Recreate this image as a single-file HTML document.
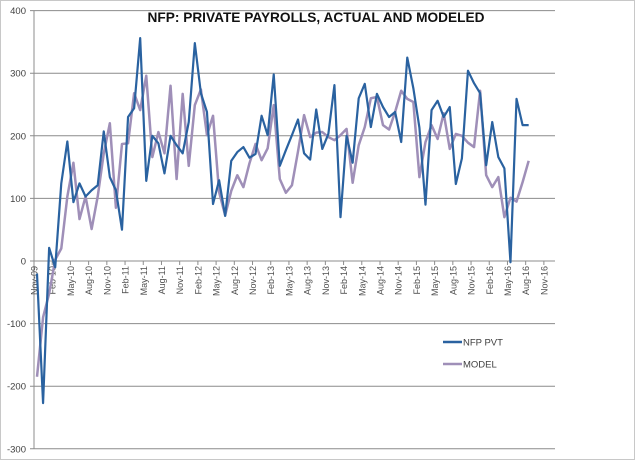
<!DOCTYPE html>
<html><head><meta charset="utf-8"><style>
body{margin:0;background:#fff;}
svg{display:block;font-family:"Liberation Sans",sans-serif;}
</style></head><body>
<svg id="chart" width="640" height="460">
<rect x="0.5" y="0.5" width="634" height="459" fill="#fff" stroke="#c8c8c8"/>
<g id="grid"></g><g id="yticks"></g><g id="xticks"></g><g id="series"></g>
<text x="316" y="22" text-anchor="middle" font-size="14" font-weight="bold" fill="#111" textLength="337" lengthAdjust="spacingAndGlyphs">NFP: PRIVATE PAYROLLS, ACTUAL AND MODELED</text>
<g>
<line x1="443" y1="342" x2="462" y2="342" stroke="#2a62a0" stroke-width="2.5"/>
<text x="463" y="345.5" font-size="9.5" fill="#404040">NFP PVT</text>
<line x1="443" y1="364" x2="462" y2="364" stroke="#9f8fb8" stroke-width="2.5"/>
<text x="463" y="367.5" font-size="9.5" fill="#404040">MODEL</text>
</g>
</svg>
<script>
const nfpPvt=[-20,-227,21,-10,124,191,94,124,103,113,121,207,134,113,50,230,244,356,128,200,188,140,200,185,172,222,348,268,238,91,129,72,160,174,182,165,171,232,201,298,152,177,201,226,172,162,242,179,203,281,70,200,157,260,283,214,267,246,230,238,190,325,276,213,90,241,256,230,246,123,164,304,284,268,153,222,166,148,-2,259,217,217];
const model=[-185,-90,-52,2,20,103,157,67,103,51,103,172,220,85,187,188,268,241,296,166,206,172,280,131,267,152,249,274,201,232,110,73,112,137,118,156,187,161,180,249,131,109,121,175,233,198,205,206,198,193,201,211,125,185,214,260,262,217,210,238,272,259,254,134,190,217,195,236,179,203,200,189,182,272,137,118,134,70,101,95,126,160];
const yTicks=[400,300,200,100,0,-100,-200,-300];
const xLabels=["Nov-09","Feb-10","May-10","Aug-10","Nov-10","Feb-11","May-11","Aug-11","Nov-11","Feb-12","May-12","Aug-12","Nov-12","Feb-13","May-13","Aug-13","Nov-13","Feb-14","May-14","Aug-14","Nov-14","Feb-15","May-15","Aug-15","Nov-15","Feb-16","May-16","Aug-16","Nov-16"];
const NS="http://www.w3.org/2000/svg";
function yS(v){return 261-v*0.626;}
function xS(i){return 37+6.07*i;}
function mk(tag,attrs,parent){const e=document.createElementNS(NS,tag);for(const k in attrs)e.setAttribute(k,attrs[k]);parent.appendChild(e);return e;}
const grid=document.getElementById('grid'),yt=document.getElementById('yticks'),xt=document.getElementById('xticks'),ser=document.getElementById('series');
yTicks.forEach(v=>{
  const l=mk('line',{x1:30,x2:555,y1:yS(v),y2:yS(v),stroke:'#8c8c8c','stroke-width':1},grid);
  
  
  const t=mk('text',{x:26,y:yS(v)+3.5,'text-anchor':'end','font-size':9.5,fill:'#404040'},yt);
  t.textContent=v;
  
  
});
const ax=mk('line',{x1:34,x2:34,y1:yS(400),y2:yS(-300),stroke:'#8c8c8c','stroke-width':1},grid);


xLabels.forEach((s,k)=>{
  const x=34+6.07*3*k;
  const tk=mk('line',{x1:x,x2:x,y1:261,y2:265,stroke:'#8c8c8c'},xt);
  
  
  const t=mk('text',{x:0,y:0,'text-anchor':'end','font-size':9,fill:'#505050',transform:`translate(${x+3.5},266) rotate(-90)`},xt);
  t.textContent=s;
  
  
});
function line(arr,color,w,name){
  const p=mk('polyline',{points:arr.map((v,i)=>xS(i)+','+yS(v)).join(' '),fill:'none',stroke:color,'stroke-width':w,'stroke-linejoin':'round'},ser);
  
  
}
line(model,'#9f8fb8',2.5,'model-line');
line(nfpPvt,'#2a62a0',2.2,'nfp-pvt-line');
</script>
</body></html>
